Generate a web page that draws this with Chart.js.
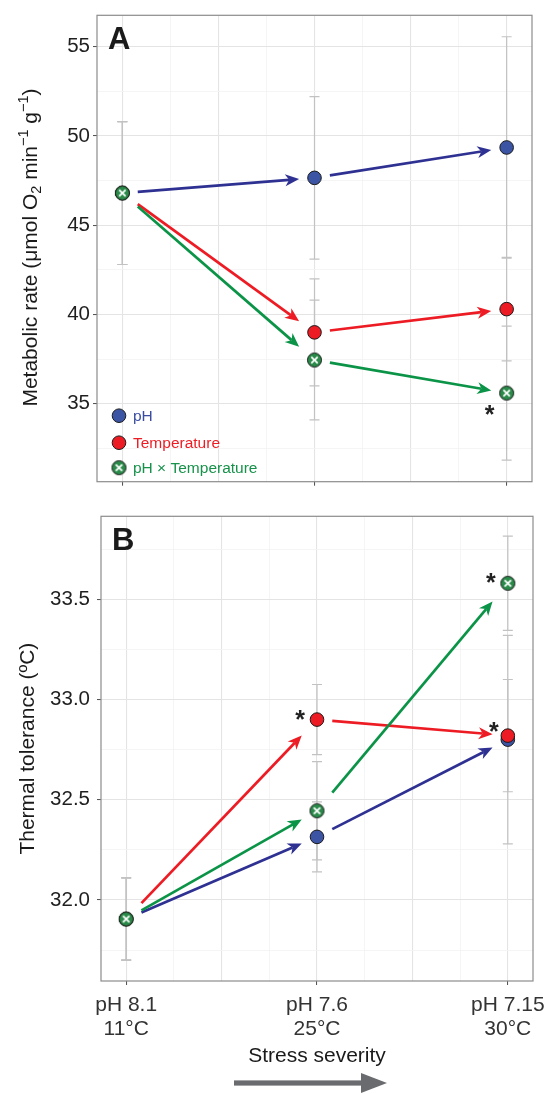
<!DOCTYPE html>
<html lang="en">
<head>
<meta charset="UTF-8">
<title>Metabolic rate and thermal tolerance under stress</title>
<script src="https://cdn.jsdelivr.net/npm/chart.js"></script>
<style>
  body { margin: 0; background: #fff; }
  #wrap { position: relative; width: 556px; height: 1094px; }
  canvas { position: absolute; left: 0; }
</style>
</head>
<body>
<div id="wrap">
  <canvas id="chartA" width="556" height="497" style="top:0"></canvas>
  <canvas id="chartB" width="556" height="597" style="top:497px"></canvas>
</div>
<script>
// stress levels (x positions) and their labels
const levels = [1, 2, 3];
const levelLabels = [['pH 8.1', '11°C'], ['pH 7.6', '25°C'], ['pH 7.15', '30°C']];

// panel A - metabolic rate (umol O2 min-1 g-1)
const metPH = [46.8, 47.65, 49.35];
const metPHErr = [4.0, 4.55, 6.2];
const metTemp = [46.8, 39.0, 40.3];
const metTempErr = [4.0, 3.0, 2.9];
const metInt = [46.8, 37.45, 35.6];
const metIntErr = [4.0, 3.35, 3.75];
const metIntSig = [false, false, true];
const metTicks = [32.5, 35, 37.5, 40, 42.5, 45, 47.5, 50, 52.5, 55];

// panel B - thermal tolerance (ºC)
const tolPH = [31.905, 32.315, 32.80];
const tolPHErr = [0.205, 0.175, 0.52];
const tolTemp = [31.905, 32.90, 32.82];
const tolTempErr = [0.205, 0.175, 0.28];
const tolTempSig = [false, true, true];
const tolInt = [31.905, 32.445, 33.58];
const tolIntErr = [0.205, 0.245, 0.235];
const tolIntSig = [false, false, true];
const tolTicks = [31.75, 32, 32.25, 32.5, 32.75, 33, 33.25, 33.5, 33.75];

const xGrid = [1, 1.25, 1.5, 1.75, 2, 2.25, 2.5, 2.75, 3];

const FONT = "'Liberation Sans', Arial, sans-serif";
Chart.defaults.font.family = FONT;

const BLUE = '#3c54a4', BLUE_ARROW = '#2e3192';
const RED = '#ed1c24';
const GREEN = '#2b8b4a', GREEN_ARROW = '#0b9447';

// green circle with a white cross, used for the interaction series
function crossMarker() {
  const c = document.createElement('canvas');
  c.width = 17; c.height = 17;
  const g = c.getContext('2d');
  g.beginPath();
  g.arc(8.5, 8.5, 7, 0, Math.PI * 2);
  g.fillStyle = GREEN; g.fill();
  g.strokeStyle = '#1a1a1a'; g.lineWidth = 1; g.stroke();
  g.strokeStyle = '#fff'; g.lineWidth = 1.8;
  g.beginPath();
  g.moveTo(5.3, 5.3); g.lineTo(11.7, 11.7);
  g.moveTo(11.7, 5.3); g.lineTo(5.3, 11.7);
  g.stroke();
  return c;
}
const crossImg = crossMarker();

function near(v, step) {
  return Math.abs(v / step - Math.round(v / step)) < 1e-6;
}

function drawArrow(ctx, xa, ya, xb, yb, color) {
  const dx = xb - xa, dy = yb - ya, len = Math.hypot(dx, dy);
  const ux = dx / len, uy = dy / len, nx = -uy, ny = ux;
  const L = 14, W = 6, notch = 4;
  ctx.strokeStyle = color; ctx.fillStyle = color;
  ctx.lineWidth = 2.7; ctx.lineCap = 'butt';
  ctx.beginPath();
  ctx.moveTo(xa, ya);
  ctx.lineTo(xb - (L - notch) * ux, yb - (L - notch) * uy);
  ctx.stroke();
  ctx.beginPath();
  ctx.moveTo(xb, yb);
  ctx.lineTo(xb - L * ux + W * nx, yb - L * uy + W * ny);
  ctx.lineTo(xb - (L - notch) * ux, yb - (L - notch) * uy);
  ctx.lineTo(xb - L * ux - W * nx, yb - L * uy - W * ny);
  ctx.closePath();
  ctx.fill();
}

const panels = {
  chartA: {
    letter: 'A',
    series: [
      { vals: metPH, err: metPHErr, arrow: BLUE_ARROW },
      { vals: metTemp, err: metTempErr, arrow: RED },
      { vals: metInt, err: metIntErr, arrow: GREEN_ARROW, sig: metIntSig, sigOff: [[0, 0], [0, 0], [-17, 16]] }
    ],
    legend: true
  },
  chartB: {
    letter: 'B',
    series: [
      { vals: tolPH, err: tolPHErr, arrow: BLUE_ARROW },
      { vals: tolTemp, err: tolTempErr, arrow: RED, sig: tolTempSig, sigOff: [[0, 0], [-17, -6], [-14, -10]] },
      { vals: tolInt, err: tolIntErr, arrow: GREEN_ARROW, sig: tolIntSig, sigOff: [[0, 0], [0, 0], [-17, -6]] }
    ],
    stressArrow: true
  }
};

const decor = {
  id: 'decor',
  beforeDatasetsDraw(chart) {
    const p = panels[chart.canvas.id];
    const ctx = chart.ctx, xs = chart.scales.x, ys = chart.scales.y;
    ctx.save();
    // error bars
    ctx.strokeStyle = '#c2c2c2'; ctx.lineWidth = 1.2;
    p.series.forEach(s => {
      s.vals.forEach((v, i) => {
        const px = xs.getPixelForValue(levels[i]);
        const t = ys.getPixelForValue(v + s.err[i]);
        const b = ys.getPixelForValue(v - s.err[i]);
        ctx.beginPath();
        ctx.moveTo(px, t); ctx.lineTo(px, b);
        ctx.moveTo(px - 5, t); ctx.lineTo(px + 5, t);
        ctx.moveTo(px - 5, b); ctx.lineTo(px + 5, b);
        ctx.stroke();
      });
    });
    // arrows between successive stress levels
    p.series.forEach(s => {
      for (let i = 0; i < s.vals.length - 1; i++) {
        const x0 = xs.getPixelForValue(levels[i]), y0 = ys.getPixelForValue(s.vals[i]);
        const x1 = xs.getPixelForValue(levels[i + 1]), y1 = ys.getPixelForValue(s.vals[i + 1]);
        drawArrow(ctx, x0 + (x1 - x0) * 0.08, y0 + (y1 - y0) * 0.08,
                  x0 + (x1 - x0) * 0.92, y0 + (y1 - y0) * 0.92, s.arrow);
      }
    });
    ctx.restore();
  },
  afterDatasetsDraw(chart) {
    const p = panels[chart.canvas.id];
    const ctx = chart.ctx, xs = chart.scales.x, ys = chart.scales.y;
    const a = chart.chartArea;
    ctx.save();
    // significance asterisks
    ctx.fillStyle = '#222';
    ctx.font = 'bold 25px ' + FONT;
    ctx.textAlign = 'center'; ctx.textBaseline = 'alphabetic';
    p.series.forEach(s => {
      if (!s.sig) return;
      s.sig.forEach((on, i) => {
        if (!on) return;
        const px = xs.getPixelForValue(levels[i]) + s.sigOff[i][0];
        const py = ys.getPixelForValue(s.vals[i]) + s.sigOff[i][1];
        ctx.fillText('*', px, py + 14);
      });
    });
    // panel letter
    ctx.textAlign = 'left';
    ctx.fillStyle = '#1a1a1a';
    ctx.font = 'bold 31px ' + FONT;
    ctx.fillText(p.letter, a.left + 11, a.top + 34);
    // legend
    if (p.legend) {
      const items = [
        { label: 'pH', color: BLUE, text: '#3a4da0', dy: -66 },
        { label: 'Temperature', color: RED, text: RED, dy: -39 },
        { label: 'pH \u00d7 Temperature', color: null, text: '#17924a', dy: -14 }
      ];
      ctx.font = '15.5px ' + FONT;
      ctx.textBaseline = 'middle';
      items.forEach(it => {
        const cx = a.left + 22, cy = a.bottom + it.dy;
        if (it.color) {
          ctx.beginPath();
          ctx.arc(cx, cy, 6.8, 0, Math.PI * 2);
          ctx.fillStyle = it.color; ctx.fill();
          ctx.strokeStyle = '#1a1a1a'; ctx.lineWidth = 1; ctx.stroke();
        } else {
          ctx.drawImage(crossImg, cx - 8.5, cy - 8.5);
        }
        ctx.fillStyle = it.text;
        ctx.fillText(it.label, a.left + 36, cy + 1);
      });
    }
    // panel box
    ctx.strokeStyle = '#8c8c8c'; ctx.lineWidth = 1.2;
    ctx.strokeRect(a.left, a.top, a.right - a.left, a.bottom - a.top);
    ctx.restore();
  },
  afterDraw(chart) {
    const p = panels[chart.canvas.id];
    const ctx = chart.ctx, a = chart.chartArea;
    ctx.save();
    if (chart.canvas.id === 'chartA') {
      // y title with subscript / superscripts
      const parts = [
        ['Metabolic rate (\u03bcmol O', 0], ['2', 1], [' min', 0], ['\u22121', -1],
        [' g', 0], ['\u22121', -1], [')', 0]
      ];
      const big = '21px ' + FONT, small = '14.5px ' + FONT;
      let total = 0;
      parts.forEach(pt => { ctx.font = pt[1] ? small : big; total += ctx.measureText(pt[0]).width; });
      ctx.translate(29, (a.top + a.bottom) / 2 - 1);
      ctx.rotate(-Math.PI / 2);
      ctx.fillStyle = '#1a1a1a';
      ctx.textBaseline = 'alphabetic'; ctx.textAlign = 'left';
      let x = -total / 2;
      parts.forEach(pt => {
        ctx.font = pt[1] ? small : big;
        const off = pt[1] === 1 ? 12 : pt[1] === -1 ? -1.5 : 7.5;
        ctx.fillText(pt[0], x, off);
        x += ctx.measureText(pt[0]).width;
      });
    }
    if (p.stressArrow) {
      // decorative arrow under the x title
      const cx = (a.left + a.right) / 2 - 3, cy = chart.height - 11;
      ctx.fillStyle = '#6a6b6e';
      ctx.fillRect(cx - 80, cy - 2.6, 130, 5.2);
      ctx.beginPath();
      ctx.moveTo(cx + 73, cy);
      ctx.lineTo(cx + 47, cy - 10);
      ctx.lineTo(cx + 47, cy + 10);
      ctx.closePath();
      ctx.fill();
    }
    ctx.restore();
  }
};

function gridColor(step) {
  return c => near(c.tick.value, step) ? '#e4e4e4' : '#f3f3f3';
}
function tickColor(step) {
  return c => near(c.tick.value, step) ? '#4d4d4d' : 'rgba(0,0,0,0)';
}

function makeChart(id, o) {
  const datasets = [
    { label: 'pH', data: o.ph.map((v, i) => ({ x: levels[i], y: v })), pointStyle: 'circle',
      pointRadius: 6.8, backgroundColor: BLUE, borderColor: '#1a1a1a', borderWidth: 1, order: 3 },
    { label: 'Temperature', data: o.temp.map((v, i) => ({ x: levels[i], y: v })), pointStyle: 'circle',
      pointRadius: 6.8, backgroundColor: RED, borderColor: '#1a1a1a', borderWidth: 1, order: 2 },
    { label: 'pH \u00d7 Temperature', data: o.int.map((v, i) => ({ x: levels[i], y: v })), pointStyle: crossImg,
      pointRadius: 8, order: 1 }
  ];
  return new Chart(document.getElementById(id), {
    type: 'scatter',
    data: { datasets },
    options: {
      responsive: false,
      animation: false,
      layout: { padding: o.padding },
      plugins: { legend: { display: false }, tooltip: { enabled: false } },
      scales: {
        x: {
          type: 'linear', min: 0.868, max: 3.132,
          afterBuildTicks: s => { s.ticks = xGrid.map(v => ({ value: v })); },
          afterFit: s => { s.height = o.xHeight; },
          border: { display: false },
          grid: { color: gridColor(0.5), lineWidth: c => near(c.tick.value, 0.5) ? 1.1 : 0.8,
                  tickColor: tickColor(1), tickLength: 4, tickWidth: 1 },
          ticks: {
            display: o.xLabels, autoSkip: false, maxRotation: 0, padding: 8, color: '#333',
            font: { size: 21, lineHeight: 1.143 },
            callback: v => near(v, 1) ? levelLabels[Math.round(v) - 1] : ''
          },
          title: {
            display: o.xLabels, text: 'Stress severity', color: '#1a1a1a',
            font: { size: 21, lineHeight: 1.2 }, padding: { top: 0, bottom: 25 }
          }
        },
        y: {
          type: 'linear', min: o.ymin, max: o.ymax,
          afterBuildTicks: s => { s.ticks = o.yTicks.map(v => ({ value: v })); },
          afterFit: s => { s.width = o.yWidth; },
          border: { display: false },
          grid: { color: gridColor(o.major), lineWidth: c => near(c.tick.value, o.major) ? 1.1 : 0.8,
                  tickColor: tickColor(o.major), tickLength: 4, tickWidth: 1 },
          ticks: {
            padding: o.yPad, color: '#1f1f1f', font: { size: 20.5 },
            callback: v => near(v, o.major) ? o.fmt(v) : ''
          },
          title: {
            display: !!o.yTitle, text: o.yTitle, color: '#1a1a1a',
            font: { size: 21, lineHeight: 1.2 }, padding: { top: 16, bottom: 0 }
          }
        }
      }
    },
    plugins: [decor]
  });
}

makeChart('chartA', {
  ph: metPH, temp: metTemp, int: metInt,
  ymin: 30.64, ymax: 56.75, yTicks: metTicks, major: 5, fmt: v => String(v),
  yWidth: 97, yPad: 3, xHeight: 10, xLabels: false, yTitle: '',
  padding: { top: 10, right: 24, bottom: 0, left: 0 }
});

makeChart('chartB', {
  ph: tolPH, temp: tolTemp, int: tolInt,
  ymin: 31.596, ymax: 33.914, yTicks: tolTicks, major: 0.5, fmt: v => v.toFixed(1),
  yWidth: 101, yPad: 7, xHeight: 113, xLabels: true, yTitle: 'Thermal tolerance (\u00baC)',
  padding: { top: 8, right: 23, bottom: 0, left: 0 }
});
</script>
</body>
</html>
